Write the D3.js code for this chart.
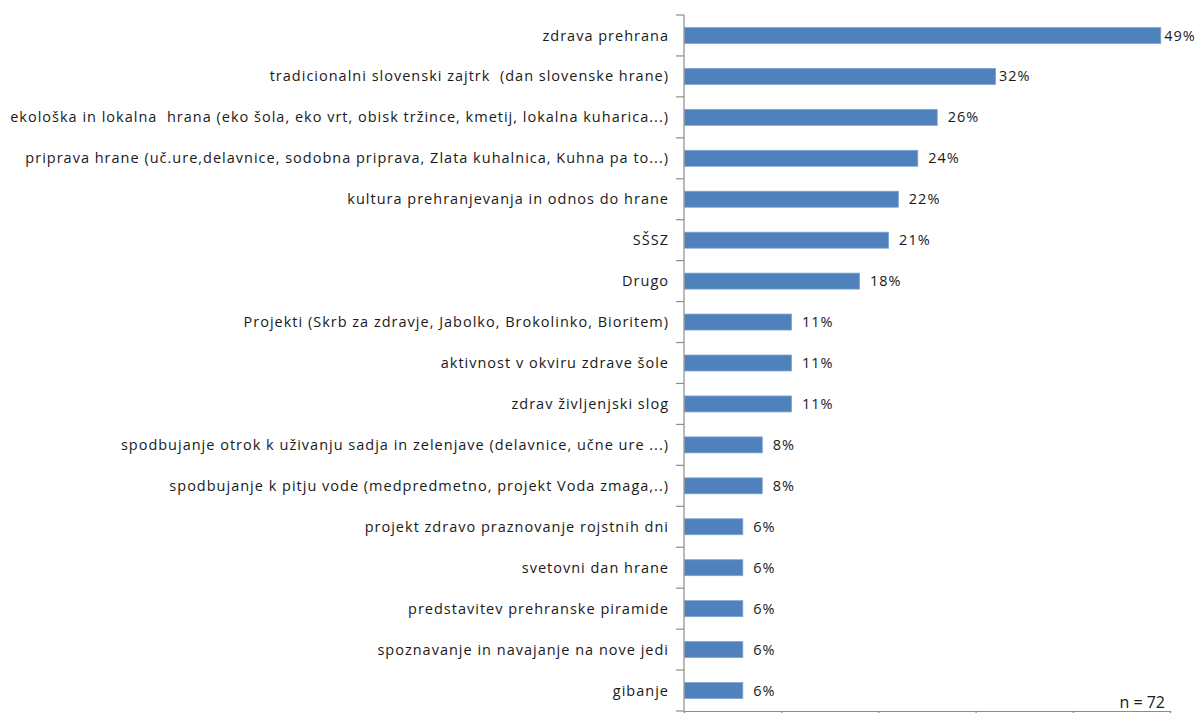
<!DOCTYPE html>
<html>
<head>
<meta charset="utf-8">
<script src="https://cdn.jsdelivr.net/npm/d3@7"></script>
<style>
  html, body { margin: 0; padding: 0; background: #ffffff; }
  svg { display: block; }
  text { font-family: "Open Sans", "Noto Sans", sans-serif; fill: #1a1a1a; white-space: pre; }
</style>
</head>
<body>
<svg id="chart" width="1197" height="713"></svg>
<script>
// Activities in school food education, share of schools (%)
const categories = [
  "zdrava prehrana",
  "tradicionalni slovenski zajtrk  (dan slovenske hrane)",
  "ekološka in lokalna  hrana (eko šola, eko vrt, obisk tržince, kmetij, lokalna kuharica...)",
  "priprava hrane (uč.ure,delavnice, sodobna priprava, Zlata kuhalnica, Kuhna pa to...)",
  "kultura prehranjevanja in odnos do hrane",
  "SŠSZ",
  "Drugo",
  "Projekti (Skrb za zdravje, Jabolko, Brokolinko, Bioritem)",
  "aktivnost v okviru zdrave šole",
  "zdrav življenjski slog",
  "spodbujanje otrok k uživanju sadja in zelenjave (delavnice, učne ure ...)",
  "spodbujanje k pitju vode (medpredmetno, projekt Voda zmaga,..)",
  "projekt zdravo praznovanje rojstnih dni",
  "svetovni dan hrane",
  "predstavitev prehranske piramide",
  "spoznavanje in navajanje na nove jedi",
  "gibanje"
];
const values = [49, 32, 26, 24, 22, 21, 18, 11, 11, 11, 8, 8, 6, 6, 6, 6, 6];
const xTicks = [0, 10, 20, 30, 40, 50];
const sampleNote = "n = 72";

const svg = d3.select("#chart");
const plot = { left: 684, right: 1170, top: 15, bottom: 711 };

const x = d3.scaleLinear().domain([0, 50]).range([plot.left, plot.right]);
const y = d3.scaleBand().domain(categories).range([plot.top, plot.bottom]).paddingInner(0.61).paddingOuter(0.305);
const yOuter = d3.scaleBand().domain(categories).range([plot.top, plot.bottom]);

const axisColor = "#8c8c8c";
const labelFont = { size: "14.5px", spacing: "1px" };

// bars
svg.append("g").selectAll("rect")
  .data(values)
  .join("rect")
  .attr("x", x(0) + 0.5)
  .attr("y", (d, i) => y(categories[i]))
  .attr("width", d => x(d) - x(0))
  .attr("height", y.bandwidth())
  .attr("fill", "#4f81bd")
  .attr("stroke", "#7fa3d1")
  .attr("stroke-width", 0.8);

// category axis (left) with tick marks between categories
const leftAxis = svg.append("g");
leftAxis.append("line")
  .attr("x1", plot.left).attr("x2", plot.left)
  .attr("y1", plot.top).attr("y2", plot.bottom)
  .attr("stroke", axisColor).attr("stroke-width", 1.2);
const boundaries = categories.map(c => yOuter(c)).concat([plot.bottom]);
leftAxis.selectAll("line.tick")
  .data(boundaries)
  .join("line")
  .attr("class", "tick")
  .attr("x1", plot.left - 8).attr("x2", plot.left)
  .attr("y1", d => d).attr("y2", d => d)
  .attr("stroke", axisColor).attr("stroke-width", 1.2);

leftAxis.selectAll("text")
  .data(categories)
  .join("text")
  .attr("x", plot.left - 15)
  .attr("y", d => yOuter(d) + yOuter.bandwidth() / 2)
  .attr("dy", "0.35em")
  .attr("text-anchor", "end")
  .style("font-size", labelFont.size)
  .style("letter-spacing", labelFont.spacing)
  .text(d => d);

// value axis (bottom)
const bottomAxis = d3.axisBottom(x).tickValues(xTicks).tickSize(8).tickFormat("");
const bx = svg.append("g").attr("transform", `translate(0,${plot.bottom})`).call(bottomAxis);
bx.select(".domain").attr("stroke", axisColor).attr("stroke-width", 1.2);
bx.selectAll(".tick line").attr("stroke", axisColor).attr("stroke-width", 1.2);

// value labels
svg.append("g").selectAll("text")
  .data(values)
  .join("text")
  .attr("x", (d, i) => x(d) + (i < 2 ? 4 : 11))
  .attr("y", (d, i) => yOuter(categories[i]) + yOuter.bandwidth() / 2)
  .attr("dy", "0.35em")
  .style("font-size", labelFont.size)
  .style("letter-spacing", labelFont.spacing)
  .text(d => d + "%");

// sample size note
svg.append("text")
  .attr("x", 1165)
  .attr("y", 708)
  .attr("text-anchor", "end")
  .style("font-size", "16px")
  .text(sampleNote);
</script>
</body>
</html>
